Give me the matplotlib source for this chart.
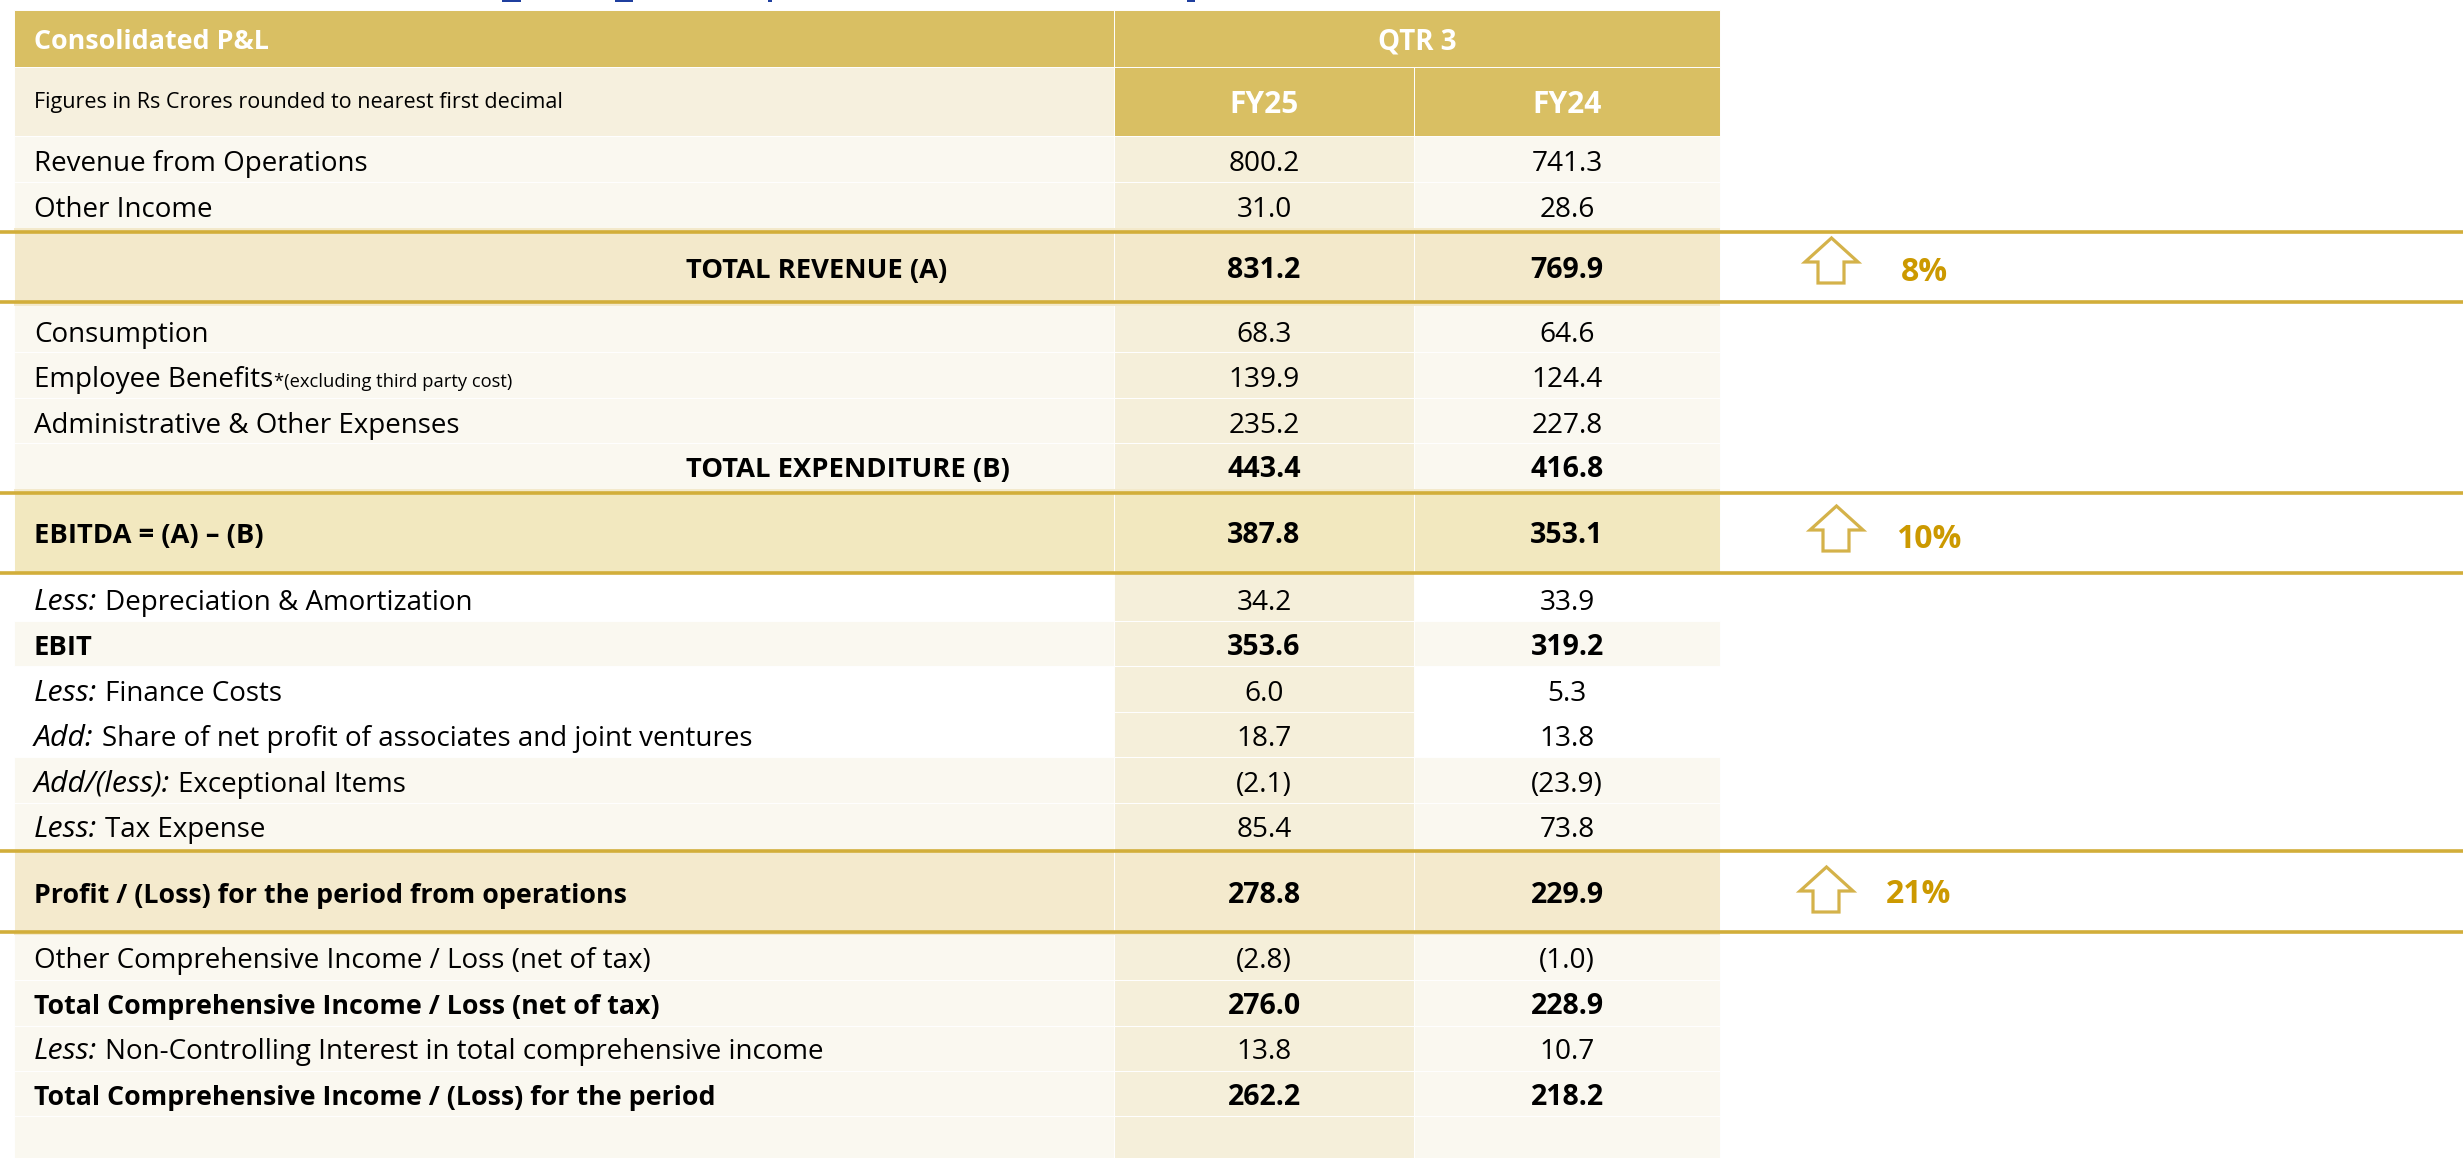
import matplotlib
import matplotlib.pyplot as plt
from matplotlib.patches import Polygon, Rectangle

matplotlib.use('Agg')
plt.rcParams['font.family'] = ['Open Sans', 'DejaVu Sans']

# table contents, each run of a label is (text, style)
row_labels = [
    [('Revenue from Operations', 'normal')],
    [('Other Income', 'normal')],
    [('TOTAL REVENUE (A)', 'caps')],
    [('Consumption', 'normal')],
    [('Employee Benefits', 'normal'), ('*(excluding third party cost)', 'small')],
    [('Administrative & Other Expenses', 'normal')],
    [('TOTAL EXPENDITURE (B)', 'caps')],
    [('EBITDA = (A) – (B)', 'caps')],
    [('Less:', 'italic'), ('Depreciation & Amortization', 'normal')],
    [('EBIT', 'caps')],
    [('Less:', 'italic'), ('Finance Costs', 'normal')],
    [('Add:', 'italic'), ('Share of net profit of associates and joint ventures', 'normal')],
    [('Add/(less):', 'italic'), ('Exceptional Items', 'normal')],
    [('Less:', 'italic'), ('Tax Expense', 'normal')],
    [('Profit / (Loss) for the period from operations', 'bold')],
    [('Other Comprehensive Income / Loss (net of tax)', 'normal')],
    [('Total Comprehensive Income / Loss (net of tax)', 'bold')],
    [('Less:', 'italic'), ('Non-Controlling Interest in total comprehensive income', 'normal')],
    [('Total Comprehensive Income / (Loss) for the period', 'bold')],
    [],
]
fy25_values = ['800.2', '31.0', '831.2', '68.3', '139.9', '235.2', '443.4', '387.8', '34.2', '353.6',
               '6.0', '18.7', '(2.1)', '85.4', '278.8', '(2.8)', '276.0', '13.8', '262.2', '']
fy24_values = ['741.3', '28.6', '769.9', '64.6', '124.4', '227.8', '416.8', '353.1', '33.9', '319.2',
               '5.3', '13.8', '(23.9)', '73.8', '229.9', '(1.0)', '228.9', '10.7', '218.2', '']
bold_rows = [2, 6, 7, 9, 14, 16, 18]
indented_rows = [2, 6]
growth_labels = ['8%', '10%', '21%']

# layout, all in pixels of the 2463x1158 picture
row_edges = [136, 182, 232, 302, 352, 398, 443, 493, 573, 621, 666, 712, 757, 803, 851, 932, 980, 1026, 1071, 1116, 1158]
baselines = [171, 217, 278, 342, 387, 433, 477, 543, 610, 655, 701, 746, 792, 837, 903, 968, 1014, 1059, 1105, 0]
gold_lines = [232, 302, 493, 573, 851, 932]
pale_bands = [(228, 232), (302, 306), (489, 493), (932, 935)]
arrow_boxes = [(1805, 238), (1810, 506), (1800, 867)]
growth_pos = [(1901, 281), (1896, 548), (1886, 903)]
title_bits = [(502, 19), (615, 18), (768, 4), (1187, 8)]
col_x = [14, 1114, 1414, 1720]

GOLD = '#D9BF63'
LINE = '#D2AE3A'
PALE = '#FAF8F0'
COL = '#F5EFDA'
BAND = {2: '#F3E9CB', 7: '#F2E8BF', 14: '#F4EACD'}
WHITE_ROWS = [8, 10, 11]
SIZE = 20.0
BOLD_SIZE = 19.3


def cell(ax, x0, x1, y0, y1, color):
    ax.add_patch(Rectangle((x0, y0), x1 - x0, y1 - y0, facecolor=color, edgecolor='white', linewidth=0.7))


def draw_runs(ax, renderer, x, y, runs):
    """Draws the parts of a label one after the other on the same baseline."""
    styles = {'normal': dict(fontsize=SIZE), 'bold': dict(fontsize=BOLD_SIZE, fontweight='bold'),
              'caps': dict(fontsize=19.7, fontweight='bold'),
              'italic': dict(fontsize=21.8, fontstyle='italic'), 'small': dict(fontsize=13.2)}
    for text, style in runs:
        t = ax.text(x, y, text, va='baseline', ha='left', color='black', **styles[style])
        x = ax.transData.inverted().transform(t.get_window_extent(renderer))[1][0]
        x += 8 if style == 'italic' else 1


def main():
    fig = plt.figure(figsize=(24.63, 11.58), dpi=100)
    ax = fig.add_axes([0, 0, 1, 1])
    ax.set_xlim(0, 2463)
    ax.set_ylim(1158, 0)
    ax.axis('off')
    renderer = fig.canvas.get_renderer()

    # bottoms of the title that is cut off above the table
    for x, width in title_bits:
        ax.add_patch(Rectangle((x, 0), width, 2, facecolor='#1F3F9F', edgecolor='none'))

    # header
    cell(ax, col_x[0], col_x[1], 10, 67, GOLD)
    cell(ax, col_x[1], col_x[3], 10, 67, GOLD)
    cell(ax, col_x[0], col_x[1], 67, 136, '#F6F0DE')
    cell(ax, col_x[1], col_x[2], 67, 136, GOLD)
    cell(ax, col_x[2], col_x[3], 67, 136, GOLD)
    ax.text(34, 49, 'Consolidated P&L', color='white', fontsize=19.4, fontweight='bold', va='baseline')
    ax.text(34, 108, 'Figures in Rs Crores rounded to nearest first decimal', color='black', fontsize=15.5,
            va='baseline')
    ax.text(1417, 49, 'QTR 3', color='white', fontsize=20, fontweight='bold', ha='center', va='baseline')
    ax.text(1264, 113, 'FY25', color='white', fontsize=21.5, fontweight='bold', ha='center', va='baseline')
    ax.text(1567, 113, 'FY24', color='white', fontsize=21.5, fontweight='bold', ha='center', va='baseline')

    # body rows
    for i, runs in enumerate(row_labels):
        y0, y1 = row_edges[i], row_edges[i + 1]
        if i in BAND:
            colors = [BAND[i]] * 3
        elif i in WHITE_ROWS:
            colors = ['white', COL, 'white']
        else:
            colors = [PALE, COL, PALE]
        for j in range(3):
            cell(ax, col_x[j], col_x[j + 1], y0, y1, colors[j])
        if not runs:
            continue
        draw_runs(ax, renderer, 686 if i in indented_rows else 34, baselines[i], runs)
        weight = 'bold' if i in bold_rows else 'normal'
        number_size = 20.5 if i in bold_rows else 20.2
        ax.text(1264, baselines[i], fy25_values[i], fontsize=number_size, fontweight=weight, ha='center',
                va='baseline')
        ax.text(1567, baselines[i], fy24_values[i], fontsize=number_size, fontweight=weight, ha='center',
                va='baseline')

    for y0, y1 in pale_bands:
        ax.add_patch(Rectangle((col_x[0], y0), col_x[3] - col_x[0], y1 - y0, facecolor='#F3E9CB', edgecolor='none'))
    ax.hlines(gold_lines, 0, 2463, color=LINE, linewidth=2.6, zorder=3)

    # growth arrows
    for (x, y), (tx, ty), label in zip(arrow_boxes, growth_pos, growth_labels):
        outline = [(x + 26.5, y), (x + 53, y + 24), (x + 39, y + 24), (x + 39, y + 45), (x + 13, y + 45),
                   (x + 13, y + 24), (x, y + 24)]
        ax.add_patch(Polygon(outline, closed=True, facecolor='white', edgecolor='#D4B24A', linewidth=2.3))
        ax.text(tx, ty, label, color='#CC9900', fontsize=23, fontweight='bold', va='baseline')

    fig.savefig('out.png', dpi=100)
    plt.close(fig)


if __name__ == '__main__':
    main()
